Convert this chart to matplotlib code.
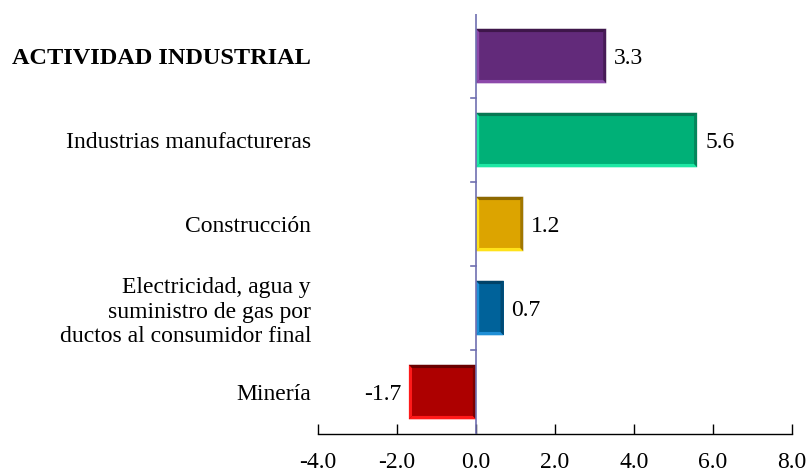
import matplotlib
matplotlib.use("Agg")
import matplotlib.pyplot as plt
from matplotlib.patches import Polygon

plt.rcParams['font.family'] = ['Liberation Serif', 'DejaVu Serif']

# sectors from bottom to top
sectors = ["Minería",
           "Electricidad, agua y\nsuministro de gas por\nductos al consumidor final",
           "Construcción",
           "Industrias manufactureras",
           "ACTIVIDAD INDUSTRIAL"]
values = [-1.7, 0.7, 1.2, 5.6, 3.3]
face_colors = ["#ad0000", "#00629a", "#dca400", "#00b077", "#622a7a"]
light_colors = ["#ff1a1a", "#1f8fd6", "#ffe21a", "#1ee8a4", "#8c49aa"]
dark_colors = ["#5a0000", "#003a5c", "#7a5a00", "#0a6a4a", "#35123f"]
x_ticks = [-4.0, -2.0, 0.0, 2.0, 4.0, 6.0, 8.0]

fs = 17

fig = plt.figure(figsize=(8.08, 4.75), dpi=100)
ax = fig.add_axes([0.3936, 0.0863, 0.5866, 0.8842])

bar_h = 0.65
bx = 0.08   # bevel width in x units
by = 0.04   # bevel width in y units
for i, v in enumerate(values):
    y0, y1 = i - bar_h / 2, i + bar_h / 2
    x0, x1 = min(0, v), max(0, v)
    ax.barh(i, v, height=bar_h, color=face_colors[i], zorder=2)
    # lighter bevel on the left and bottom edges
    ax.add_patch(Polygon([(x0, y0), (x1, y0), (x1 - bx, y0 + by), (x0 + bx, y0 + by)],
                         closed=True, color=light_colors[i], lw=0, zorder=3))
    ax.add_patch(Polygon([(x0, y0), (x0, y1), (x0 + bx, y1 - by), (x0 + bx, y0 + by)],
                         closed=True, color=light_colors[i], lw=0, zorder=3))
    # darker bevel on the top and right edges
    ax.add_patch(Polygon([(x0, y1), (x1, y1), (x1 - bx, y1 - by), (x0 + bx, y1 - by)],
                         closed=True, color=dark_colors[i], lw=0, zorder=3, alpha=0.8))
    ax.add_patch(Polygon([(x1, y0), (x1, y1), (x1 - bx, y1 - by), (x1 - bx, y0 + by)],
                         closed=True, color=dark_colors[i], lw=0, zorder=3, alpha=0.6))
    if v >= 0:
        ax.text(v + 0.2, i - 0.03, f"{v:.1f}", ha="left", va="center", fontsize=fs)
    else:
        ax.text(v - 0.2, i - 0.03, f"{v:.1f}", ha="right", va="center", fontsize=fs)

# vertical zero line with small category ticks
ax.axvline(0, color="#7070b0", lw=1.2, zorder=4)
for b in [0.5, 1.5, 2.5, 3.5]:
    ax.plot([-0.12, 0], [b, b], color="#7070b0", lw=1.2, zorder=4)

ax.set_xlim(-4, 8)
ax.set_ylim(-0.5, 4.5)
ax.set_xticks(x_ticks)
ax.set_xticklabels([f"{t:.1f}" for t in x_ticks], fontsize=fs)
ax.tick_params(axis="x", direction="in", length=7, width=1, pad=13)
ax.set_yticks(range(len(sectors)))
ax.set_yticklabels(sectors, fontsize=fs)
ax.tick_params(axis="y", length=0, pad=5)
top_label = ax.get_yticklabels()[-1]
top_label.set_fontweight("bold")
top_label.set_fontsize(17.5)

for s in ["top", "right", "left"]:
    ax.spines[s].set_visible(False)
ax.spines["bottom"].set_linewidth(1)

fig.savefig("out.png", dpi=100)
